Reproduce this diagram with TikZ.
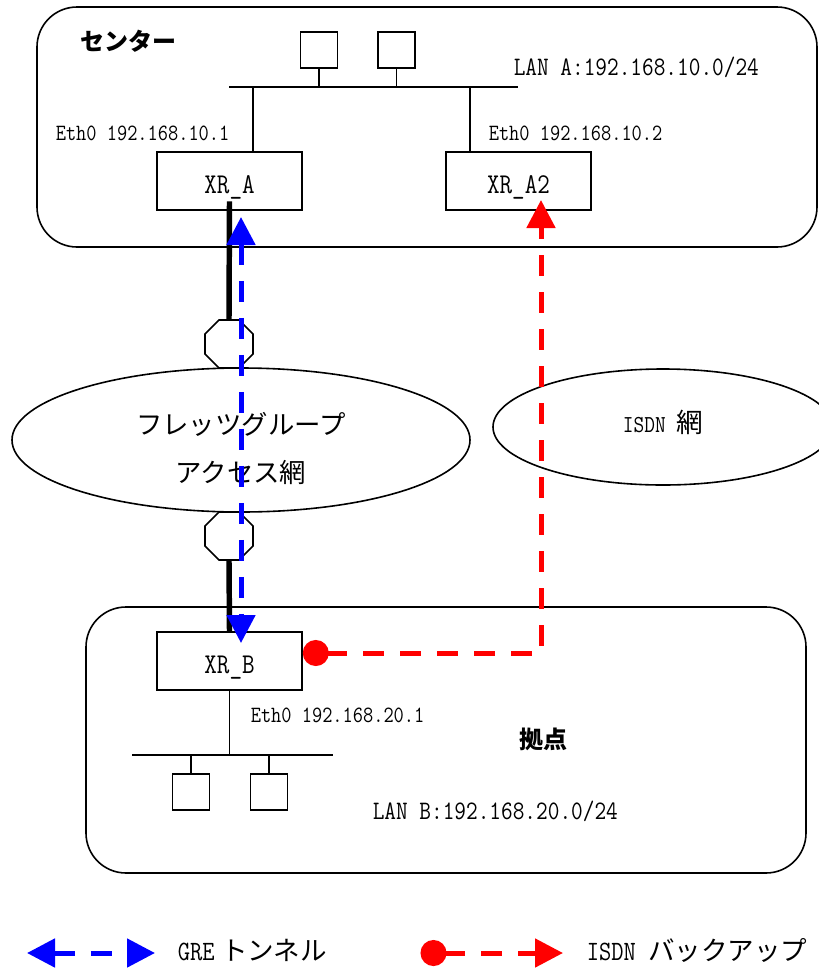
\documentclass[tikz,border=0pt]{standalone}
\usepackage{fontspec}
\setmainfont{Latin Modern Mono}[FakeStretch=0.85]
\newfontfamily\jp{Noto Sans CJK JP}
\usetikzlibrary{shapes.geometric, arrows.meta}

\begin{document}
\begin{tikzpicture}[
		x=0.75pt, y=-0.75pt,
		line width=1.2pt,
		site/.style={draw, rounded corners=30pt},
		router/.style={draw, minimum width=108.75pt, minimum height=43.5pt, inner sep=0pt,
			text height=19pt, text depth=0pt, font=\fontsize{21.5}{24}\selectfont},
		pc/.style={draw, minimum width=27.75pt, minimum height=27pt, inner sep=0pt},
		onu/.style={draw, fill=white, regular polygon, regular polygon sides=8, minimum size=39pt, inner sep=0pt},
		net/.style={draw, ellipse, inner sep=0pt, align=center},
		addr/.style={anchor=west, inner sep=0pt, font=\fontsize{17.5}{20}\selectfont},
		lan/.style={anchor=west, inner sep=0pt, font=\fontsize{20}{22}\selectfont},
		place/.style={inner sep=0pt, font=\jp\bfseries\fontsize{18}{20}\selectfont},
		legend/.style={anchor=west, inner sep=0pt, font=\fontsize{21}{24}\selectfont},
		trunk/.style={line width=4.1pt},
		gre/.style={blue, line width=3.75pt, dash pattern=on 15.75pt off 12pt,
			arrows={Triangle[length=21pt, width=21pt]-Triangle[length=21pt, width=21pt]}},
		backup/.style={red, line width=3.75pt, dash pattern=on 15.75pt off 12pt,
			arrows={Circle[length=19.5pt]-Triangle[length=21pt, width=21pt]}}
	]
	\useasboundingbox (0,0) rectangle (818,968);

	\draw[site] (37,7) rectangle (817,247);
	\draw[site] (86,607) rectangle (806,873);

	\node[place] (centre) at (128,41) {センター};
	\node[place] (branch) at (543,739) {拠点};

	\coordinate (busAl) at (229,87);
	\coordinate (busAr) at (518,87);
	\draw (busAl) -- (busAr);
	\node[pc] (pcA1) at (319,50) {};
	\node[pc] (pcA2) at (396.5,50) {};
	\draw (pcA1.south) -- (pcA1 |- busAl);
	\draw (pcA2.south) -- (pcA2 |- busAl);
	\node[lan] (lanA) at (513,67) {LAN A:192.168.10.0/24};

	\node[router] (xra) at (229.5,181) {XR\_A};
	\node[router] (xra2) at (518.5,181) {XR\_A2};
	\draw ([xshift=17.6pt]xra.north) -- ([xshift=17.6pt]xra.north |- busAl);
	\draw ([xshift=-36.4pt]xra2.north) -- ([xshift=-36.4pt]xra2.north |- busAl);
	\node[addr] (ethA) at (55,133) {Eth0 192.168.10.1};
	\node[addr] (ethA2) at (488,133) {Eth0 192.168.10.2};

	\node[router] (xrb) at (229.5,661) {XR\_B};
	\coordinate (busBl) at (132,755);
	\coordinate (busBr) at (333,755);
	\draw (busBl) -- (busBr);
	\draw (xrb.south) -- (xrb |- busBl);
	\node[pc] (pcB1) at (191,792) {};
	\node[pc] (pcB2) at (269,792) {};
	\draw (pcB1.north) -- (pcB1 |- busBl);
	\draw (pcB2.north) -- (pcB2 |- busBl);
	\node[addr] (ethB) at (250,715) {Eth0 192.168.20.1};
	\node[lan] (lanB) at (372,811) {LAN B:192.168.20.0/24};

	\node[onu] (onu1) at (229,344) {};
	\node[onu] (onu2) at (229,536) {};
	\draw[trunk] ([yshift=7pt]xra.south) -- (onu1.north);
	\draw[trunk] (onu2.south) -- (xrb.north);

	\node[net, minimum width=343.5pt, minimum height=108pt, font=\jp\fontsize{19.8}{36}\selectfont]
		(flets) at (241,440) {\rule{0pt}{29pt}フレッツグループ\\アクセス網};
	\node[net, minimum width=255pt, minimum height=87pt, font=\fontsize{18.3}{20}\selectfont]
		(isdn) at (663,427) {ISDN {\jp\fontsize{20}{20}\selectfont 網}\rule[-9pt]{0pt}{1pt}};

	\coordinate (greA) at (241,217);
	\coordinate (greB) at (241,643);
	\draw[gre] (greA) -- (greB);
	\coordinate (bakA2) at (541,200);
	\draw[backup] ([yshift=6pt]xrb.east) -| (bakA2);

	\coordinate (greL) at (27,953);
	\coordinate (greR) at (155,953);
	\draw[gre] (greL) -- (greR);
	\node[legend] (greText) at (177,950) {GRE\hspace{5pt}{\jp\fontsize{19.9}{24}\selectfont トンネル}};
	\coordinate (bakL) at (420.5,953);
	\coordinate (bakR) at (563,953);
	\draw[backup] (bakL) -- (bakR);
	\node[legend] (bakText) at (586,950) {ISDN {\jp\fontsize{19.9}{24}\selectfont バックアップ}};
\end{tikzpicture}
\end{document}
